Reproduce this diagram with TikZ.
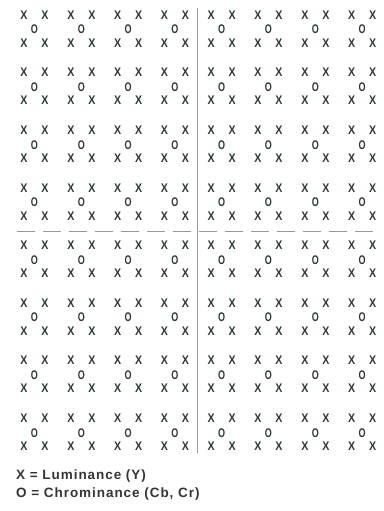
\documentclass[tikz,border=0pt]{standalone}
\usepackage{fontspec}
\setmainfont{Liberation Sans}
\newfontfamily\narrowsans[FakeStretch=0.85]{Liberation Sans}
\newfontfamily\legendsans[LetterSpace=7]{Liberation Sans}
\usetikzlibrary{positioning}
\definecolor{ink}{RGB}{44,58,50}
\definecolor{legendink}{RGB}{50,54,52}
\definecolor{rule}{RGB}{150,156,152}

\begin{document}
\begin{tikzpicture}[x=1pt, y=-1pt,
    every node/.style={inner sep=0pt, text=ink, font=\narrowsans\bfseries\fontsize{12.5}{14}\selectfont}]
    \useasboundingbox (0,0) rectangle (383,511);
    % sample blocks
    \foreach \r in {0,...,7} {
        \foreach \c in {0,...,7} {
            \node (lt-\r-\c) at ({24+46.8*\c}, {15+57.6*\r}) {X};
            \node (rt-\r-\c) at ({45+46.8*\c}, {15+57.6*\r}) {X};
            \node[xscale=0.85] (ch-\r-\c) at ({34.5+46.8*\c}, {29.5+57.6*\r}) {O};
            \node (lb-\r-\c) at ({24+46.8*\c}, {43+57.6*\r}) {X};
            \node (rb-\r-\c) at ({45+46.8*\c}, {43+57.6*\r}) {X};
        }
    }
    % quadrant lines
    \draw[rule, line width=1pt] (197.5, 8) -- (197.5, 453);
    \draw[rule, line width=1pt, dash pattern=on 18pt off 8pt] (17, 231.5) -- (381, 231.5);
    % legend
    \node[anchor=west, text=legendink, font=\legendsans\bfseries\fontsize{13.5}{16}\selectfont] (luma) at (16, 476) {X = Luminance (Y)};
    \node[anchor=west, text=legendink, font=\legendsans\bfseries\fontsize{13.5}{16}\selectfont] (chroma) at (16, 494) {O = Chrominance (Cb, Cr)};
\end{tikzpicture}
\end{document}
